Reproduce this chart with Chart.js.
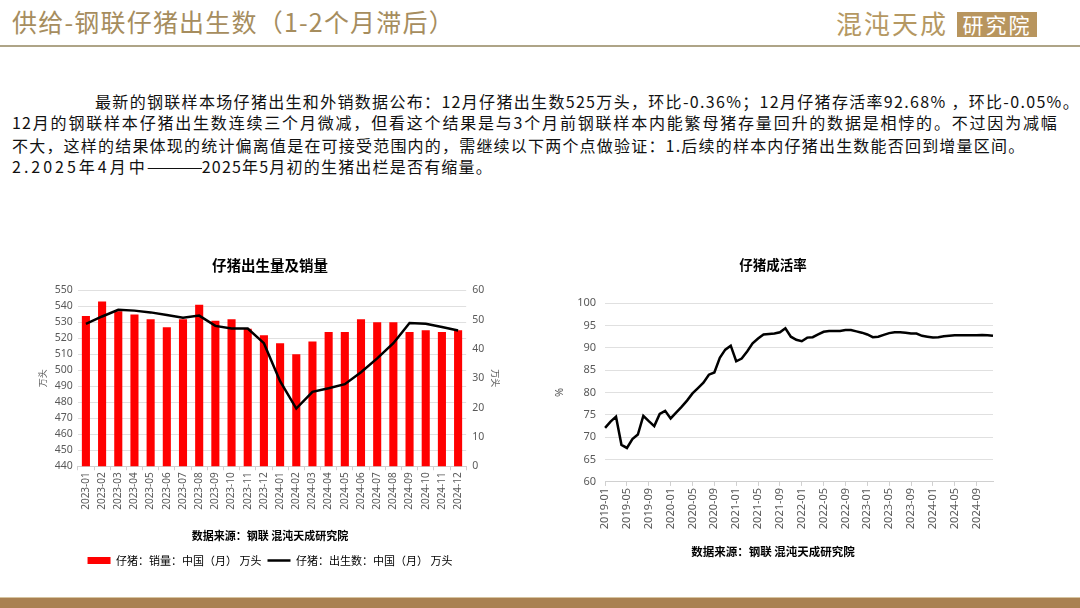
<!DOCTYPE html>
<html><head><meta charset="utf-8">
<script src="https://cdn.jsdelivr.net/npm/chart.js@4.4.1/dist/chart.umd.min.js"></script>
<style>
html,body{margin:0;padding:0;background:#fff;}
body{width:1080px;height:608px;position:relative;overflow:hidden;font-family:"Noto Sans CJK SC","Noto Sans",sans-serif;}
#title{position:absolute;left:12px;top:4px;font-size:25px;color:#a68d5e;letter-spacing:1.2px;line-height:34px;white-space:nowrap;}
#hline{position:absolute;left:0;top:45px;width:1080px;height:2px;background:#aea487;}
#logo1{position:absolute;left:836px;top:5px;font-size:26px;color:#b59862;letter-spacing:2px;line-height:36px;white-space:nowrap;}
#logo2{position:absolute;left:957px;top:12px;width:80px;height:25px;background:#b8955e;color:#fff;font-size:21px;line-height:25px;text-align:center;letter-spacing:2px;}
.p{position:absolute;font-size:16px;color:#111;white-space:nowrap;line-height:22px;letter-spacing:1.2px;}
.j{text-align:justify;text-align-last:justify;white-space:normal;}
.dash{display:inline-block;width:56px;letter-spacing:0;overflow:hidden;vertical-align:top;margin-left:-2px;}
.dash span{display:inline-block;transform:scaleX(2.3);transform-origin:0 50%;}
#band{position:absolute;left:0;top:597px;width:1080px;height:11px;background:#a98152;border-top:1px solid #d6c4a0;}
canvas{position:absolute;}
#c1{left:37px;top:250px;}
#c2{left:553px;top:250px;}
</style>
</head>
<body>
<div id="title">供给-钢联仔猪出生数（1-2个月滞后）</div>
<div id="hline"></div>
<div id="logo1">混沌天成</div>
<div id="logo2">研究院</div>
<div class="p" style="left:95px;top:90px;letter-spacing:1.32px;">最新的钢联样本场仔猪出生和外销数据公布：12月仔猪出生数525万头，环比-0.36%；12月仔猪存活率92.68% ，环比-0.05%。</div>
<div class="p j" style="left:12px;top:111px;width:1046px;">12月的钢联样本仔猪出生数连续三个月微减，但看这个结果是与3个月前钢联样本内能繁母猪存量回升的数据是相悖的。不过因为减幅</div>
<div class="p" style="left:12px;top:134px;">不大，这样的结果体现的统计偏离值是在可接受范围内的，需继续以下两个点做验证：1.后续的样本内仔猪出生数能否回到增量区间。</div>
<div class="p" style="left:12px;top:155px;"><span style="letter-spacing:3px;">2.2025年4月中</span><span class="dash"><span>——</span></span>2025年5月初的生猪出栏是否有缩量。</div>
<canvas id="c1" width="470" height="326" style="width:470px;height:326px;"></canvas>
<canvas id="c2" width="448" height="315" style="width:448px;height:315px;"></canvas>
<div id="band"></div>
<script>
// ---- Left chart data ----
const salesMonths = ['2023-01','2023-02','2023-03','2023-04','2023-05','2023-06','2023-07','2023-08','2023-09','2023-10','2023-11','2023-12',
  '2024-01','2024-02','2024-03','2024-04','2024-05','2024-06','2024-07','2024-08','2024-09','2024-10','2024-11','2024-12'];
const pigletSales = [534,543,537,535,532,527,532,541,531,532,526,522,517,510,518,524,524,532,530,530,524,525,524,525];
const pigletBirths = [48.6,51.1,53.4,53.1,52.5,51.6,50.7,51.4,47.9,47.0,47.0,42.0,29.0,19.7,25.4,26.6,28.0,32.1,36.8,42.0,48.9,48.6,47.5,46.3];
const leftTicks = [440,450,460,470,480,490,500,510,520,530,540,550];
const rightTicks = [0,10,20,30,40,50,60];

// ---- Right chart data ----
const rateMonths = ['2019-01','2019-02','2019-03','2019-04','2019-05','2019-06','2019-07','2019-08','2019-09','2019-10','2019-11','2019-12',
  '2020-01','2020-02','2020-03','2020-04','2020-05','2020-06','2020-07','2020-08','2020-09','2020-10','2020-11','2020-12',
  '2021-01','2021-02','2021-03','2021-04','2021-05','2021-06','2021-07','2021-08','2021-09','2021-10','2021-11','2021-12',
  '2022-01','2022-02','2022-03','2022-04','2022-05','2022-06','2022-07','2022-08','2022-09','2022-10','2022-11','2022-12',
  '2023-01','2023-02','2023-03','2023-04','2023-05','2023-06','2023-07','2023-08','2023-09','2023-10','2023-11','2023-12',
  '2024-01','2024-02','2024-03','2024-04','2024-05','2024-06','2024-07','2024-08','2024-09','2024-10','2024-11','2024-12'];
const survivalRate = [72.1,73.5,74.6,68.3,67.6,69.6,70.6,74.8,73.6,72.5,75.2,75.9,
  74.2,75.5,76.8,78.2,79.8,81.0,82.2,84.0,84.5,87.8,89.6,90.5,
  87.0,87.6,89.2,91.0,92.1,93.0,93.1,93.2,93.5,94.4,92.5,91.8,
  91.5,92.3,92.4,93.0,93.6,93.8,93.8,93.8,94.0,94.0,93.7,93.4,
  93.0,92.4,92.5,92.9,93.3,93.5,93.5,93.4,93.2,93.2,92.7,92.5,
  92.3,92.4,92.6,92.7,92.8,92.8,92.8,92.8,92.8,92.9,92.8,92.7];
const rateTicks = [60,65,70,75,80,85,90,95,100];

const FONT = '"Noto Sans","Noto Sans CJK SC",sans-serif';
const CJK = '"Noto Sans CJK SC","Noto Sans",sans-serif';
const tickColor = '#595959';
const gridColor = '#e0e0e0';

new Chart(document.getElementById('c1'), {
  data: {
    labels: salesMonths,
    datasets: [
      {type:'bar', label:'仔猪：销量：中国（月） 万头', data: pigletSales, backgroundColor:'#ff0000', borderWidth:0,
       yAxisID:'y', barPercentage:0.5, categoryPercentage:1.0, order:2},
      {type:'line', label:'仔猪：出生数：中国（月） 万头', data: pigletBirths, borderColor:'#000', backgroundColor:'#000',
       borderWidth:2.5, pointRadius:0, tension:0, yAxisID:'y1', order:1}
    ]
  },
  options: {
    responsive:false, animation:false,
    layout:{padding:{left:0,right:4,top:0,bottom:0}},
    scales: {
      x: {grid:{display:true, drawOnChartArea:false, color:'#d0d0d0', tickLength:4, offset:true},
          border:{color:'#d0d0d0'},
          ticks:{minRotation:90, maxRotation:90, autoSkip:false, font:{size:10, family:FONT}, color:tickColor, padding:2}},
      y: {position:'left', min:leftTicks[0], max:leftTicks[leftTicks.length-1],
          afterBuildTicks: s => { s.ticks = leftTicks.map(v => ({value:v})); },
          grid:{color:gridColor, drawTicks:false}, border:{display:false},
          ticks:{autoSkip:false, font:{size:10.5, family:FONT}, color:tickColor, padding:5},
          title:{display:true, text:'万头', font:{size:9, family:CJK}, color:tickColor, padding:{top:0,bottom:2}}},
      y1: {position:'right', min:rightTicks[0], max:rightTicks[rightTicks.length-1],
          afterBuildTicks: s => { s.ticks = rightTicks.map(v => ({value:v})); },
          grid:{display:false, drawTicks:false}, border:{display:false},
          ticks:{autoSkip:false, font:{size:10.5, family:FONT}, color:tickColor, padding:6},
          title:{display:true, text:'万头', font:{size:9, family:CJK}, color:tickColor, padding:{top:2,bottom:0}}}
    },
    plugins: {
      title:{display:true, text:'仔猪出生量及销量', color:'#000', font:{size:14.5, weight:'bold', family:CJK}, padding:{top:7, bottom:16}},
      subtitle:{display:true, position:'bottom', weight:500, text:'数据来源：钢联 混沌天成研究院', color:'#000',
        font:{size:11, weight:'bold', family:CJK}, padding:{top:17, bottom:7}},
      legend:{position:'bottom', labels:{usePointStyle:true, pointStyleWidth:23, boxHeight:7, boxWidth:23, padding:6,
        font:{size:11, family:CJK}, color:'#000',
        sort: (a, b) => a.datasetIndex - b.datasetIndex,
        generateLabels: chart => {
          const items = Chart.defaults.plugins.legend.labels.generateLabels(chart);
          items.forEach(it => {
            if (it.datasetIndex === 0) { it.pointStyle='rect'; it.fillStyle='#ff0000'; it.strokeStyle='#ff0000'; it.lineWidth=0; }
            else { it.pointStyle='line'; it.strokeStyle='#000'; it.fillStyle='#000'; it.lineWidth=2.5; }
          });
          return items;
        }}},
      tooltip:{enabled:false}
    }
  }
});

new Chart(document.getElementById('c2'), {
  type:'line',
  data: {
    labels: rateMonths,
    datasets: [{label:'仔猪成活率', data: survivalRate, borderColor:'#000', borderWidth:2.5, pointRadius:0, tension:0, fill:false}]
  },
  options: {
    responsive:false, animation:false,
    layout:{padding:{left:0,right:8,top:0,bottom:0}},
    scales: {
      x: {offset:false, grid:{display:true, drawOnChartArea:false, color:'#d0d0d0', tickLength:4},
          border:{color:'#d0d0d0'},
          ticks:{minRotation:90, maxRotation:90, autoSkip:false, font:{size:11, family:FONT}, color:tickColor, padding:2,
            callback: function(v, i){ return i % 4 === 0 ? this.getLabelForValue(v) : null; }}},
      y: {min:rateTicks[0], max:rateTicks[rateTicks.length-1],
          afterBuildTicks: s => { s.ticks = rateTicks.map(v => ({value:v})); },
          grid:{color:gridColor, drawTicks:false}, border:{display:false},
          ticks:{autoSkip:false, font:{size:11, family:FONT}, color:tickColor, padding:9},
          title:{display:true, text:'%', font:{size:11, family:FONT}, color:tickColor, padding:{top:0,bottom:2}}}
    },
    plugins: {
      title:{display:true, text:'仔猪成活率', color:'#000', font:{size:13.5, weight:'bold', family:CJK}, padding:{top:7, bottom:30}},
      subtitle:{display:true, position:'bottom', weight:500, text:'数据来源：钢联 混沌天成研究院', color:'#000',
        font:{size:11.5, weight:'bold', family:CJK}, padding:{top:14, bottom:6}},
      legend:{display:false},
      tooltip:{enabled:false}
    }
  }
});
</script>
</body></html>
